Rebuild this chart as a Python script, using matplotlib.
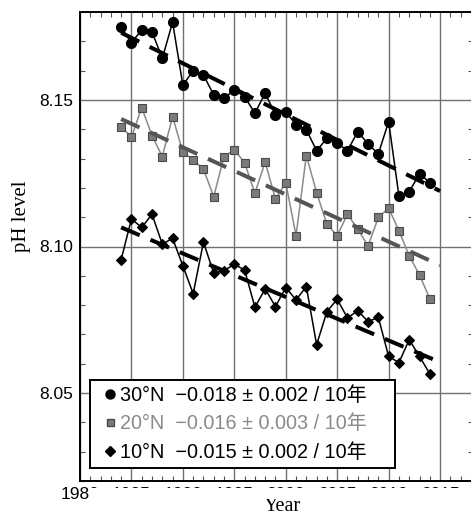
"""pH trend at 137E (10N, 20N, 30N), winter data."""
import matplotlib.pyplot as plt
import numpy as np
from matplotlib.lines import Line2D
from matplotlib.patches import Rectangle

plt.rcParams['font.family'] = ['Liberation Sans', 'Noto Sans CJK JP']
plt.rcParams['xtick.labelsize'] = 12.5
plt.rcParams['ytick.labelsize'] = 12.5

years = np.arange(1984, 2015)
ph_30n = [8.1748, 8.1695, 8.1739, 8.1732, 8.1642, 8.1765, 8.1550, 8.1600,
          8.1585, 8.1517, 8.1506, 8.1534, 8.1511, 8.1455, 8.1523, 8.1449,
          8.1460, 8.1415, 8.1398, 8.1327, 8.1369, 8.1352, 8.1327, 8.1392,
          8.1350, 8.1316, 8.1426, 8.1173, 8.1187, 8.1248, 8.1218]
ph_20n = [8.1409, 8.1373, 8.1474, 8.1378, 8.1307, 8.1443, 8.1322, 8.1295,
          8.1264, 8.1170, 8.1307, 8.1330, 8.1286, 8.1182, 8.1288, 8.1162,
          8.1218, 8.1037, 8.1310, 8.1184, 8.1076, 8.1037, 8.1110, 8.1059,
          8.1002, 8.1099, 8.1131, 8.1054, 8.0968, 8.0903, 8.0822]
ph_10n = [8.0955, 8.1094, 8.1065, 8.1110, 8.1008, 8.1028, 8.0934, 8.0839,
          8.1015, 8.0909, 8.0918, 8.0939, 8.0920, 8.0793, 8.0855, 8.0795,
          8.0860, 8.0818, 8.0863, 8.0665, 8.0778, 8.0820, 8.0756, 8.0781,
          8.0744, 8.0758, 8.0625, 8.0604, 8.0682, 8.0625, 8.0566]
trend_years = np.array([1984, 2015])
labels = ["30°N  \u22120.018 ± 0.002 / 10年",
          "20°N  \u22120.016 ± 0.003 / 10年",
          "10°N  \u22120.015 ± 0.002 / 10年"]

fig = plt.figure(figsize=(4.71, 5.18), dpi=100)
ax = fig.add_axes([80 / 471, 37 / 518, 393 / 471, 469 / 518])

series = [
    (ph_30n, 'o', 7.2, 'black', 'black', 'black', 'black'),
    (ph_20n, 's', 5.6, '#8a8a8a', '#7a7a7a', '#4a4a4a', '#555555'),
    (ph_10n, 'D', 5.3, 'black', 'black', 'black', 'black'),
]
handles = []
for vals, mk, ms, lc, fc, ec, tc in series:
    ax.plot(years, vals, color=lc, lw=1.1, marker=mk, ms=ms,
            mfc=fc, mec=ec, mew=0.8, zorder=3)
    # linear trend through the annual values
    k, b = np.polyfit(years, vals, 1)
    ax.plot(trend_years, k * trend_years + b, color=tc, lw=2.9,
            linestyle=(0, (5, 2.9)), dash_capstyle='butt', zorder=4)
    handles.append(Line2D([], [], linestyle='none', marker=mk, ms=ms * 0.9,
                          mfc=fc, mec=ec))

ax.set_xlim(1980, 2018.2)
ax.set_ylim(8.02, 8.18)
ax.set_xticks(np.arange(1980, 2020, 5))
ax.set_xticks(np.arange(1980, 2019), minor=True)
ax.set_yticks([8.05, 8.10, 8.15])
ax.set_yticklabels(['8.05', '8.10', '8.15'])
ax.set_yticks(np.arange(8.02, 8.181, 0.01), minor=True)
ax.tick_params(which='both', direction='in', top=True, right=True)
ax.tick_params(which='major', length=0, pad=5)
ax.tick_params(which='minor', length=3.5, width=0.8, color='#555555')
ax.tick_params(axis='x', which='major', pad=4)
ax.grid(True, which='major', color='#707070', lw=1.0)
for s in ax.spines.values():
    s.set_linewidth(1.4)

ax.set_ylabel('pH level', family='Liberation Serif', fontsize=15)
ax.yaxis.set_label_coords(-0.125, 0.565)
ax.set_xlabel('Year', family='Liberation Serif', fontsize=14.5)
ax.xaxis.set_label_coords(0.514, -0.0341)

leg = ax.legend(handles, labels, loc='lower left', mode='expand',
                bbox_to_anchor=(0.0254, 0.028, 305 / 393, 0.0),
                borderaxespad=0, fontsize=14.3, frameon=True, fancybox=False,
                framealpha=1, edgecolor='black', handlelength=1.42,
                handletextpad=-0.2, borderpad=0.31, labelspacing=0.47)
leg.get_frame().set_linewidth(1.4)
leg.set_zorder(6)
leg.get_texts()[1].set_color('#8a8a8a')

# strip that hides most of the year labels, as in the scanned original
fig.patches.append(Rectangle((89 / 471, 19 / 518), 382 / 471, 11.5 / 518,
                             transform=fig.transFigure, facecolor='white',
                             edgecolor='none', zorder=10))

fig.savefig('out.png', dpi=100)
